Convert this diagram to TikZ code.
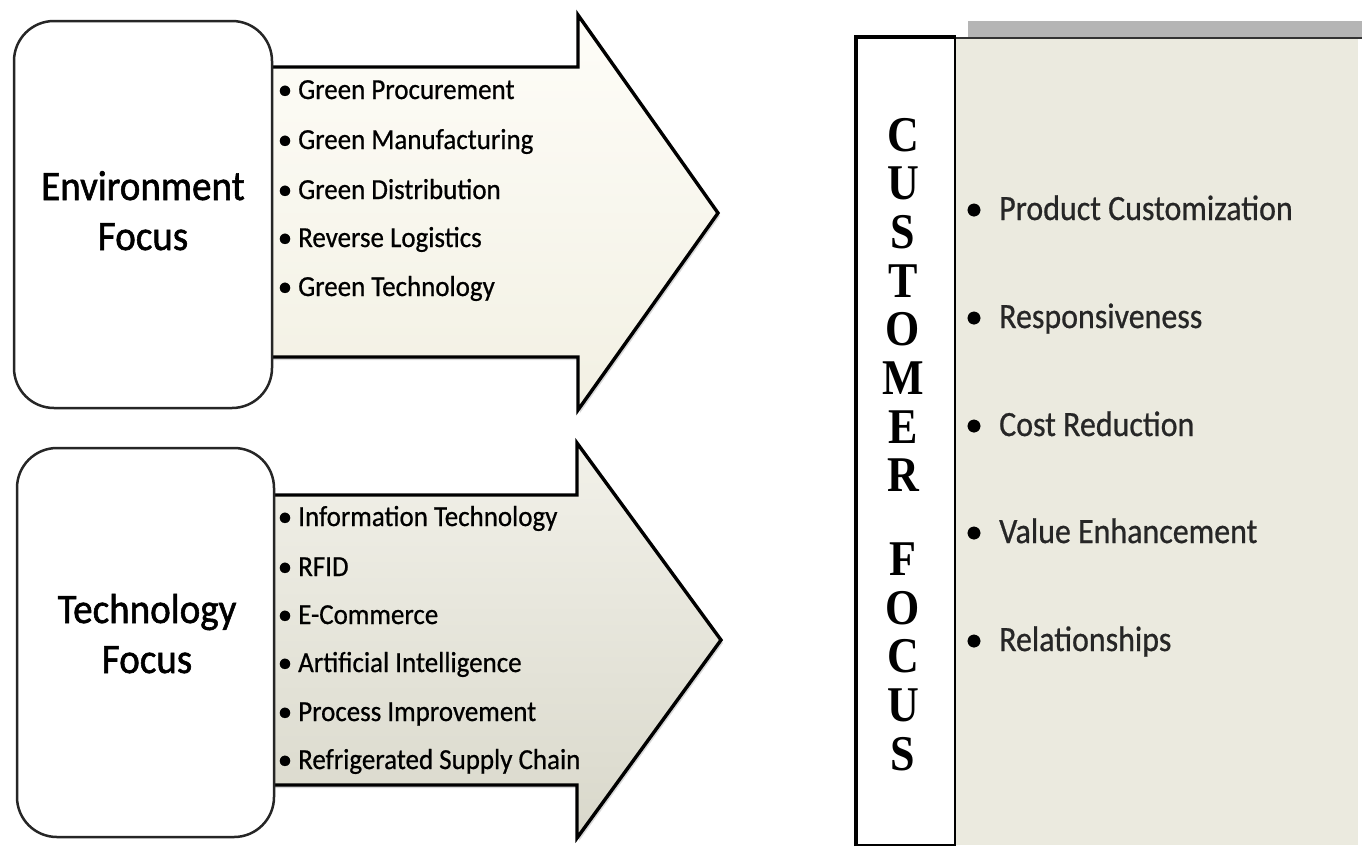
\documentclass[tikz,border=0pt]{standalone}
\usepackage{fontspec}
\usepackage{graphicx}
\setmainfont{Carlito}[FakeBold=0.7]
\newfontfamily\headfont{Carlito}[FakeBold=1.4]
\newfontfamily\letterfont{Liberation Serif Bold}
\usetikzlibrary{shadows}
\newcommand{\cz}[1]{\scalebox{0.93}[1]{#1}}
\definecolor{envtop}{HTML}{FEFDF8}
\definecolor{envbot}{HTML}{F2F0E3}
\definecolor{techtop}{HTML}{F2F1E9}
\definecolor{techbot}{HTML}{D9D8CB}
\definecolor{panelbg}{HTML}{EBEADF}
\definecolor{bargray}{HTML}{B5B5B5}
\tikzset{
  focusbox/.style={draw=black!85, line width=2.5pt, fill=white, rounded corners=40pt, inner sep=0pt},
  arrowshape/.style={draw=black, line width=3.4pt, line join=miter,
    drop shadow={shadow xshift=2pt, shadow yshift=-3pt, opacity=0.3}},
  heading/.style={font=\headfont\fontsize{42}{46}\selectfont, anchor=base, inner sep=0pt},
  item/.style={font=\fontsize{29}{32}\selectfont, anchor=base west, inner sep=0pt},
  itembullet/.style={font=\fontsize{29}{32}\selectfont, anchor=base, inner sep=0pt},
  citem/.style={font=\fontsize{35.5}{40}\selectfont, anchor=base west, inner sep=0pt, text=black!85},
  cbullet/.style={font=\fontsize{35.5}{40}\selectfont, anchor=base, inner sep=0pt},
  letter/.style={font=\letterfont\fontsize{50}{54}\selectfont, anchor=base, inner sep=0pt},
}
\begin{document}
\begin{tikzpicture}[x=1pt,y=-1pt]
\useasboundingbox (0,0) rectangle (1362,847);
\fill[white] (0,0) rectangle (1362,847);

% ---- environment arrow and box ----
\draw[arrowshape, top color=envtop, bottom color=envbot]
  (262,67) -- (578,67) -- (578,15) -- (718,213) -- (578,410) -- (578,357) -- (262,357) -- cycle;
\node[focusbox, minimum width=258pt, minimum height=387pt] (envbox) at (143,214.5) {};
\node[heading] (envt1) at (143,200) {\cz{Environment}};
\node[heading] (envt2) at (143,250) {\cz{Focus}};

\foreach \y/\t [count=\i] in {99/Green Procurement, 149/Green Manufacturing, 199/Green Distribution,
    247/Reverse Logistics, 296/Green Technology}{
  \node[itembullet] (envb\i) at (285,\y) {•};
  \node[item] (envi\i) at (298,\y) {\cz{\t}};
}

% ---- technology arrow and box ----
\draw[arrowshape, top color=techtop, bottom color=techbot]
  (262,495) -- (577,495) -- (577,443) -- (721,640) -- (577,838) -- (577,785) -- (262,785) -- cycle;
\node[focusbox, minimum width=257pt, minimum height=389pt] (techbox) at (145.5,642.5) {};
\node[heading] (techt1) at (147,623) {\cz{Technology}};
\node[heading] (techt2) at (147,673) {\cz{Focus}};

\foreach \y/\t [count=\i] in {526/Information Technology, 576/RFID, 624/E-Commerce,
    672/Artificial Intelligence, 721/Process Improvement, 769/Refrigerated Supply Chain}{
  \node[itembullet] (techb\i) at (285,\y) {•};
  \node[item] (techi\i) at (298,\y) {\cz{\t}};
}

% ---- customer focus panel ----
\fill[bargray] (968,21) rectangle (1362,37);
\fill[panelbg] (955,38) rectangle (1358,845);
\draw[black!80, line width=1.6pt] (955,38) -- (1362,38);
\node[draw=black, line width=2pt, fill=white, minimum width=98pt, minimum height=807pt, inner sep=0pt]
  (custbox) at (906,441.5) {};
\draw[black, line width=3.5pt] (custbox.south west) -- (custbox.north west) -- (custbox.north east);

\foreach \y/\l [count=\i] in {151/C, 199.6/U, 248/S, 297/T, 345/O, 394/M, 443/E, 491/R,
    575/F, 624/O, 672/C, 721/U, 770/S}{
  \node[letter] (cl\i) at (903,\y) {\scalebox{0.88}[1]{\l}};
}

\foreach \y/\t [count=\i] in {220/Product Customization, 328/Responsiveness, 436/Cost Reduction,
    543/Value Enhancement, 651/Relationships}{
  \node[cbullet] (custb\i) at (974,\y) {•};
  \node[citem] (custi\i) at (999,\y) {\scalebox{0.9}[1]{\t}};
}
\end{tikzpicture}
\end{document}
